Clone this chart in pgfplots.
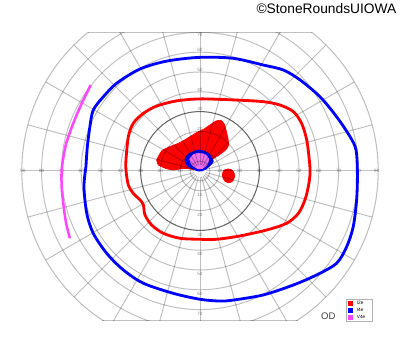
\documentclass[border=0pt]{standalone}
\usepackage{pgfplots}
\pgfplotsset{compat=1.18}
\usepackage{fontspec}
\setmainfont{Liberation Sans}
\definecolor{gridc}{RGB}{192,192,192}
\definecolor{ringc}{RGB}{105,105,105}
\definecolor{isored}{RGB}{255,0,0}
\definecolor{isoblue}{RGB}{0,0,255}
\definecolor{isomag}{RGB}{255,70,255}
\definecolor{magfill}{RGB}{238,110,238}
\tikzset{lbl/.style={font=\fontsize{3.3}{4}\selectfont, text=black!45, inner sep=0pt}}
\begin{document}
\begin{tikzpicture}
\begin{axis}[
  width=10cm, height=8.8cm, scale only axis,
  xmin=-101.01, xmax=101.01, ymin=-91.41, ymax=86.36,
  hide axis, clip=false,
  legend style={at={(axis description cs:0.8643,0.1506)}, anchor=north west,
    draw=black!30, line width=0.5pt, fill=white,
    font=\fontsize{3.4}{4}\selectfont,
    inner xsep=1.4pt, inner ysep=1pt, row sep=1.5pt, column sep=2.5pt,
    nodes={inner sep=0.3pt, text width=9.5pt, align=left, text depth=0pt},
    cells={anchor=west}},
  legend image code/.code={\fill[draw=none,#1] (0pt,-1.75pt) rectangle (3.5pt,1.75pt);},
]
% invisible frame for bounding box
\path (axis cs:-101.01,-91.41) rectangle (axis cs:101.01,86.36);
% ---- scale labels
\pgfplotsinvokeforeach{10,20,...,80}{
  \node[lbl] at (axis cs:-#1,0) {#1};
  \node[lbl] at (axis cs:#1,0) {#1};
}
\node[lbl] at (axis cs:-89.5,0) {90};
\node[lbl] at (axis cs:89.3,0) {90};
\pgfplotsinvokeforeach{10,20,...,60}{
  \node[lbl] at (axis cs:0,{#1+1.2}) {#1};
  \node[lbl] at (axis cs:0,{-#1-2.1}) {#1};
}
\node[lbl] at (axis cs:0,68.8) {70};
\node[lbl] at (axis cs:0,-72.3) {70};
% ---- filled regions
\addplot[forget plot, fill=isored, draw=isored, line width=0.5pt, smooth, tension=0.35] coordinates {
(-21.9,5.6) (-19.3,10.2) (-15.2,12.3) (-11.8,13.6) (-8,15.5) (-5.1,17.3) (-1.5,19.5) (1.7,21) (5,23.2) (8,25.2) (10.5,25.6) (12.2,23.8) (13.2,20.5) (14.2,16) (14.3,12.6) (12.6,10.3) (9.5,8) (6.7,6.2) (5,4.2) (3.4,2.2) (1.5,0.8) (0,0.2) (-3,0.6) (-6,1.2) (-9.2,1.2) (-13.5,0.5) (-17,1.2) (-21,3.0) (-21.9,5.6)
} -- cycle;
\addplot[forget plot, fill=isored, draw=isored, line width=0.5pt, smooth, tension=0.5] coordinates {
(12,0.3) (14,1.0) (16,0.6) (17.2,-1) (17.4,-3) (16.6,-5) (14.8,-5.9) (12.8,-5.3) (11.6,-3.5) (11.4,-1.3) (12,0.3)
} -- cycle;
\addplot[forget plot, fill=isoblue, draw=isoblue, line width=0.6pt, smooth, tension=0.4] coordinates {
(-0.9,10.6) (2.5,9.9) (5.1,7.8) (6.7,4.9) (5.1,2.8) (3.0,1.0) (1.0,0.1) (-1,0) (-3.4,1.0) (-6.4,2.6) (-7.6,5.6) (-5.6,8.7) (-0.9,10.6)
} -- cycle;
\addplot[forget plot, fill=magfill, draw=magfill, line width=0.3pt, smooth, tension=0.4] coordinates {
(-0.9,9.0) (2.5,8.4) (4.5,6) (3.6,3.2) (1.2,1.2) (-1,1.1) (-3.8,2.8) (-5.2,5.8) (-3.5,8.2) (-0.9,9.0)
} -- cycle;
% ---- grid
\begin{scope}[blend mode=multiply]
\begin{scope}
\clip (axis cs:-95,-75.3) rectangle (axis cs:95,70);
\clip (axis cs:0,0) circle[radius=90];
\pgfplotsinvokeforeach{5,10,20,40,50,60,70,80}{
  \draw[gridc, line width=0.7pt] (axis cs:0,0) circle[radius=#1];
}
\pgfplotsinvokeforeach{0,15,...,345}{
  \draw[gridc, line width=0.7pt] (axis cs:{3*cos(#1)},{3*sin(#1)}) -- (axis cs:{95*cos(#1)},{95*sin(#1)});
}
\draw[ringc, line width=0.75pt] (axis cs:0,0) circle[radius=30];
\end{scope}
\begin{scope}
\clip (axis cs:-95,-75.3) rectangle (axis cs:95,70);
\draw[gridc, line width=0.75pt] (axis cs:0,0) circle[radius=90];
\end{scope}
\draw[gridc, line width=0.75pt] (axis cs:-56.57,70) -- (axis cs:56.57,70);
\draw[gridc, line width=0.75pt] (axis cs:-49.3,-75.3) -- (axis cs:49.3,-75.3);
\end{scope}
% ---- isopter lines
\addplot[forget plot, draw=isored, line width=2pt, smooth, tension=0.5] coordinates {
(-37.4,5.6) (-36.2,17.3) (-33.7,24.1) (-28.6,29.1) (-21.9,32.8) (-11.8,35.4) (0,36.4) (16.8,35.9) (32.0,35.0) (40.4,33.3) (47.1,30.0) (51.3,24.1) (53.9,15.7) (55.2,5.6) (55.6,-1.2) (54.7,-7.9) (53.0,-14.6) (49.7,-21.4) (43.8,-26.4) (33.7,-29.8) (20.2,-32.8) (8.4,-34.5) (0,-34.5) (-10.1,-34.0) (-18.5,-31.5) (-24.4,-27.3) (-27.8,-22.2) (-28.6,-17.2) (-30.3,-14.6) (-33.7,-11.3) (-36.2,-7.1) (-37.4,0.5) (-37.4,5.6)
} -- cycle;
\addplot[forget plot, draw=isoblue, line width=2pt, smooth, tension=0.5] coordinates {
(-57.6,2.2) (-56.9,12.3) (-55.6,22.4) (-53.9,30.8) (-48.8,37.5) (-42.1,44.3) (-30.3,51.5) (-16.8,55.5) (0,57.4) (16.8,56.9) (32,53.5) (42.1,51.0) (50.5,46.0) (60.6,37.5) (69,27.4) (75.8,17.3) (78.8,10.6) (79.5,-1.2) (79.1,-14.6) (77.4,-28.1) (74.1,-38.2) (69,-46.6) (58.9,-52.5) (47.1,-57.6) (32,-62.6) (16.8,-65.2) (10.1,-65.7) (0,-64.8) (-13.5,-61.8) (-28.6,-56.7) (-38.7,-50) (-47.1,-41.6) (-53.9,-31.5) (-57.2,-21.4) (-58.6,-8) (-57.6,2.2)
} -- cycle;
\addplot[forget plot, draw=isomag, line width=1.8pt, smooth, tension=0.5] coordinates {
(-55.2,43.4) (-59.7,34.2) (-64.0,24.1) (-67.8,13) (-69.8,1) (-69.8,-9) (-68.6,-20) (-67.5,-27) (-65.7,-34)
};
% ---- legend
\addlegendimage{fill=isored}
\addlegendentry{I2e}
\addlegendimage{fill=isoblue}
\addlegendentry{I4e}
\addlegendimage{fill=isomag}
\addlegendentry{V4e}
% ---- texts
\node[font=\fontsize{6.8}{8}\selectfont, text=black!75, inner sep=0pt] at (axis cs:64.8,-73.2) {OD};
\node[anchor=base east, font=\fontsize{9.8}{11}\selectfont, inner sep=0pt] at (axis cs:99.3,79.6) {©StoneRoundsUIOWA};
\end{axis}
\end{tikzpicture}
\end{document}
